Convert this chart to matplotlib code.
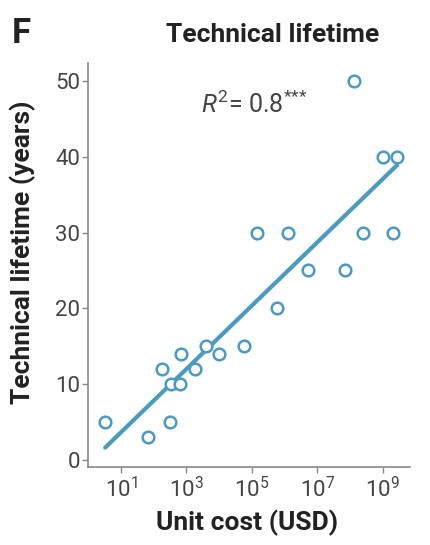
import numpy as np
import matplotlib
matplotlib.use('Agg')
import matplotlib.pyplot as plt

# log10 of unit cost (USD) and technical lifetime (years)
log_cost = [0.52, 1.84, 2.25, 2.50, 2.53, 2.79, 2.84, 3.27, 3.60, 3.98, 4.76,
            5.17, 5.76, 6.11, 6.71, 7.85, 8.12, 8.39, 9.00, 9.43, 9.31]
lifetime = [5, 3, 12, 5, 10, 10, 14, 12, 15, 14, 15,
            30, 20, 30, 25, 25, 50, 30, 40, 40, 30]
x_ticks = [1, 3, 5, 7, 9]
y_ticks = [0, 10, 20, 30, 40, 50]

family = 'Roboto'
plt.rcParams['font.family'] = [family, 'DejaVu Sans']
plt.rcParams['mathtext.fontset'] = 'custom'
plt.rcParams['mathtext.rm'] = family
plt.rcParams['mathtext.it'] = family + ':italic'

blue = '#4a9bc2'
dark = '#222222'
cost = 10.0 ** np.array(log_cost)
years = np.array(lifetime)

# linear fit of lifetime on log10(cost)
slope, icpt = np.polyfit(np.array(log_cost), years, 1)
fx = np.array([min(log_cost), max(log_cost)])

fig = plt.figure(figsize=(4.3, 5.45), dpi=100)
ax = fig.add_axes([0.205, 0.143, 0.748, 0.741])

ax.plot(10.0 ** fx, slope * fx + icpt, color=blue, lw=3.0, solid_capstyle='round', zorder=2)
ax.scatter(cost, years, s=70, facecolors='white', edgecolors=blue, linewidths=1.8, zorder=3)

ax.set_xscale('log')
ax.set_xlim(10 ** 0.0, 10 ** 9.82)
ax.set_ylim(-0.9, 52.3)
ax.set_xticks([10.0 ** t for t in x_ticks])
ax.set_xticklabels([f'$10^{{{t}}}$' for t in x_ticks])
ax.xaxis.set_minor_locator(matplotlib.ticker.NullLocator())
ax.set_yticks(y_ticks)

for s in ['top', 'right']:
    ax.spines[s].set_visible(False)
for s in ['left', 'bottom']:
    ax.spines[s].set_color('#888888')
    ax.spines[s].set_linewidth(1.2)
ax.tick_params(axis='both', colors='#888888', length=4, width=1.0,
               labelsize=16, labelcolor='#444444')
ax.tick_params(axis='y', pad=2)

# axis labels, title and panel letter
fig.text(247 / 430, 1 - 523 / 545, 'Unit cost (USD)', fontsize=19, fontweight='bold',
         color=dark, ha='center', va='center')
fig.text(23 / 430, 1 - 252 / 545, 'Technical lifetime (years)', fontsize=19, fontweight='bold',
         color=dark, ha='center', va='center', rotation=90)
ax.text(0.516, 0.876, r'$\mathit{R}^2$= 0.8$^{{*}{*}{*}}$', transform=ax.transAxes,
        fontsize=18, color='#444444', ha='center', va='baseline')
fig.text(273 / 430, 1 - 42 / 545, 'Technical lifetime', fontsize=19, fontweight='bold',
         color=dark, ha='center', va='baseline')
fig.text(12 / 430, 1 - 43 / 545, 'F', fontsize=25, fontweight='bold',
         color=dark, ha='left', va='baseline')

fig.savefig('out.png', dpi=100)
